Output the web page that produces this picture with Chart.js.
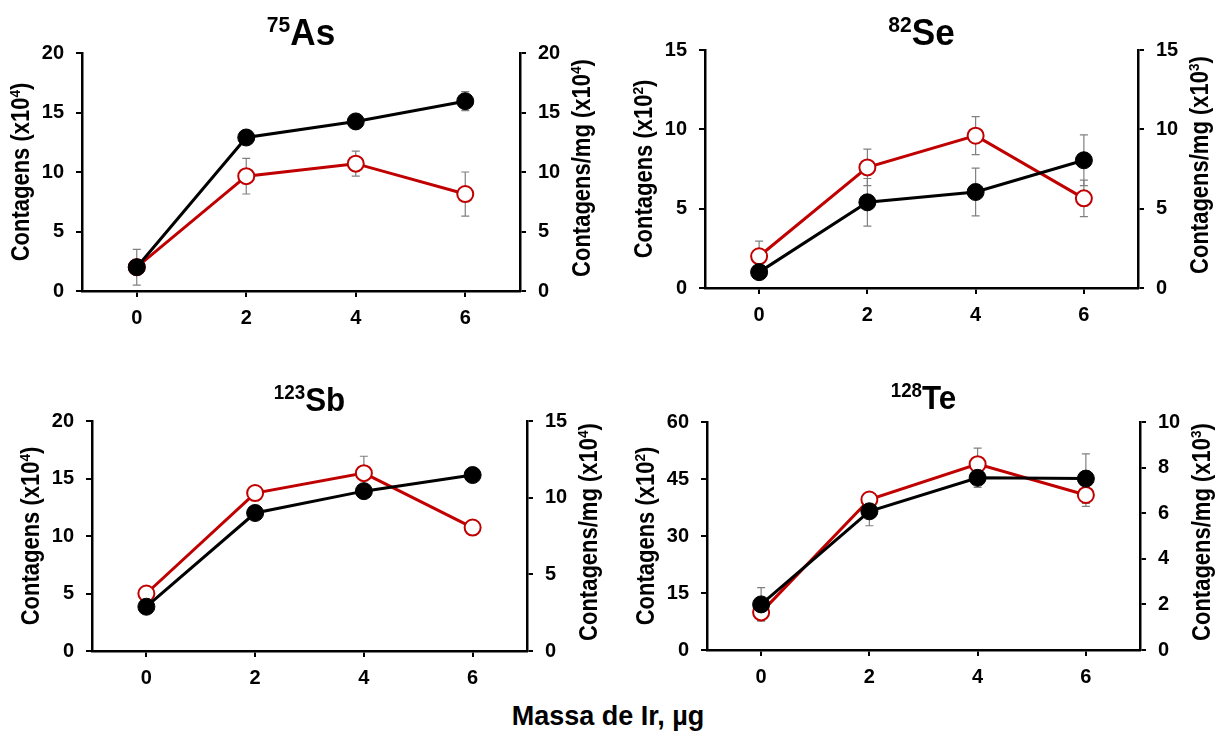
<!DOCTYPE html>
<html lang="pt">
  <head>
    <meta charset="utf-8" />
    <title>Massa de Ir</title>
    <script src="https://cdn.jsdelivr.net/npm/chart.js@4.4.0/dist/chart.umd.min.js"></script>
    <style>
      body { margin: 0; background: #fff; }
      #wrap { position: relative; width: 1216px; height: 731px; font-family: "Liberation Sans", Arial, sans-serif; }
      #wrap canvas { position: absolute; }
      #xlabel { position: absolute; left: 0; width: 1216px; top: 703px; text-align: center;
                font-weight: bold; font-size: 27px; line-height: 26px; color: #000; }
    </style>
  </head>

  <body>
    <div id="wrap">
      <canvas id="as" width="608" height="360" style="left:0;top:0"></canvas>
      <canvas id="se" width="608" height="360" style="left:608px;top:0"></canvas>
      <canvas id="sb" width="608" height="340" style="left:0;top:360px"></canvas>
      <canvas id="te" width="608" height="340" style="left:608px;top:360px"></canvas>
      <div id="xlabel">Massa de Ir, µg</div>
    </div>

    <script>
      // massa de Ir (µg)
      var massa = [0, 2, 4, 6];

      // 75As
      var asCont = [2.0, 12.9, 14.25, 15.95];
      var asContErr = [1.5, 0.3, 0.4, 0.8];
      var asMg = [2.0, 9.65, 10.7, 8.15];
      var asMgErr = [0.3, 1.5, 1.05, 1.85];

      // 82Se
      var seCont = [1.0, 5.4, 6.05, 8.05];
      var seContErr = [0.3, 1.5, 1.5, 1.6];
      var seMg = [2.0, 7.6, 9.6, 5.65];
      var seMgErr = [0.95, 1.15, 1.2, 1.15];

      // 123Sb
      var sbCont = [3.85, 12.0, 13.9, 15.3];
      var sbContErr = [0.3, 0.3, 0.3, 0.3];
      var sbMg = [3.75, 10.3, 11.6, 8.05];
      var sbMgErr = [0.3, 0.3, 1.1, 0.3];

      // 128Te
      var teCont = [12.0, 36.5, 45.3, 45.1];
      var teContErr = [4.4, 3.8, 2.5, 6.5];
      var teMg = [1.65, 6.6, 8.15, 6.8];
      var teMgErr = [0.35, 0.3, 0.7, 0.5];

      var FONT = "'Liberation Sans', Arial, sans-serif";
      var RED = "#c00000";

      var panels = [
        { id: "as", title: "^75As", tsize: 37, left: "Contagens (x10^4)", right: "Contagens/mg (x10^4)",
          cont: asCont, contErr: asContErr, mg: asMg, mgErr: asMgErr,
          yMax: 20, yStep: 5, y2Max: 20, y2Step: 5, area: { l: 82, t: 53, r: 520, b: 291 }, tY: 45 },
        { id: "se", title: "^82Se", tsize: 37, left: "Contagens (x10^2)", right: "Contagens/mg (x10^3)",
          cont: seCont, contErr: seContErr, mg: seMg, mgErr: seMgErr,
          yMax: 15, yStep: 5, y2Max: 15, y2Step: 5, area: { l: 97, t: 50, r: 530, b: 288 }, tY: 45 },
        { id: "sb", title: "^123Sb", tsize: 33, left: "Contagens (x10^4)", right: "Contagens/mg (x10^4)",
          cont: sbCont, contErr: sbContErr, mg: sbMg, mgErr: sbMgErr,
          yMax: 20, yStep: 5, y2Max: 15, y2Step: 5, area: { l: 92, t: 61, r: 527, b: 291 }, tY: 51 },
        { id: "te", title: "^128Te", tsize: 33, left: "Contagens (x10^2)", right: "Contagens/mg (x10^3)",
          cont: teCont, contErr: teContErr, mg: teMg, mgErr: teMgErr,
          yMax: 60, yStep: 15, y2Max: 10, y2Step: 2, area: { l: 99, t: 62, r: 532, b: 290 }, tY: 49 },
      ];

      // "^75As" -> [{t:"75",sup:true},{t:"As"}]
      function rich(s) {
        return s.split(/(\^\d+)/).filter(Boolean).map(function (t) {
          return t[0] === "^" ? { t: t.slice(1), sup: true } : { t: t, sup: false };
        });
      }

      // sx < 1 squeezes the text along its own direction (the source font is narrow)
      function drawRich(ctx, s, x, y, size, supRatio, sx) {
        var parts = rich(s);
        var w = 0;
        parts.forEach(function (p) {
          ctx.font = "bold " + (p.sup ? size * supRatio : size) + "px " + FONT;
          w += ctx.measureText(p.t).width;
        });
        ctx.save();
        ctx.scale(sx, 1);
        var cx = x / sx - w / 2;
        ctx.textAlign = "left";
        ctx.textBaseline = "alphabetic";
        parts.forEach(function (p) {
          ctx.font = "bold " + (p.sup ? size * supRatio : size) + "px " + FONT;
          ctx.fillText(p.t, cx, p.sup ? y - size * 0.36 : y);
          cx += ctx.measureText(p.t).width;
        });
        ctx.restore();
      }

      var errorBars = {
        id: "errorBars",
        beforeDatasetsDraw: function (chart) {
          var ctx = chart.ctx;
          var xs = chart.scales.x;
          ctx.save();
          ctx.strokeStyle = "#808080";
          ctx.lineWidth = 1.2;
          chart.data.datasets.forEach(function (ds) {
            var ys = chart.scales[ds.yAxisID];
            ds.data.forEach(function (p, j) {
              var e = ds.errors[j];
              var px = xs.getPixelForValue(p.x);
              var top = ys.getPixelForValue(p.y + e);
              var bot = ys.getPixelForValue(p.y - e);
              ctx.beginPath();
              ctx.moveTo(px, top); ctx.lineTo(px, bot);
              ctx.moveTo(px - 4, top); ctx.lineTo(px + 4, top);
              ctx.moveTo(px - 4, bot); ctx.lineTo(px + 4, bot);
              ctx.stroke();
            });
          });
          ctx.restore();
        },
      };

      function textPlugin(pn) {
        return {
          id: "panelText",
          afterDraw: function (chart) {
            var ctx = chart.ctx;
            var a = chart.chartArea;
            var cy = (a.top + a.bottom) / 2;
            ctx.save();
            ctx.fillStyle = "#000";
            drawRich(ctx, pn.title, (a.left + a.right) / 2, pn.tY, pn.tsize, 0.6, 0.95);

            ctx.save();
            ctx.translate(a.left - 61, cy);
            ctx.rotate(-Math.PI / 2);
            drawRich(ctx, pn.left, 0, 8, 25, 0.62, 0.88);
            ctx.restore();

            ctx.save();
            ctx.translate(a.right + 62, cy - 4);
            ctx.rotate(-Math.PI / 2);
            drawRich(ctx, pn.right, 0, 8, 25, 0.62, 0.88);
            ctx.restore();
            ctx.restore();
          },
        };
      }

      function points(ys) {
        return massa.map(function (m, i) { return { x: m, y: ys[i] }; });
      }

      var tickFont = { family: FONT, size: 20, weight: "bold" };

      function axisY(pos, max, step, fit) {
        return {
          position: pos,
          min: 0,
          max: max,
          ticks: { stepSize: step, color: "#000", font: tickFont, padding: 12 },
          grid: { drawOnChartArea: false, color: "#000", lineWidth: 2, tickLength: 6 },
          border: { color: "#000", width: 2.5 },
          afterFit: fit,
        };
      }

      panels.forEach(function (pn) {
        var canvas = document.getElementById(pn.id);
        var W = canvas.width, H = canvas.height, a = pn.area;
        new Chart(canvas.getContext("2d"), {
          type: "line",
          data: {
            datasets: [
              {
                data: points(pn.cont), errors: pn.contErr, yAxisID: "y",
                borderColor: "#000", borderWidth: 3,
                pointRadius: 8.5, pointBackgroundColor: "#000", pointBorderColor: "#000", pointBorderWidth: 1,
              },
              {
                data: points(pn.mg), errors: pn.mgErr, yAxisID: "y2",
                borderColor: RED, borderWidth: 3,
                pointRadius: 8, pointBackgroundColor: "#fff", pointBorderColor: RED, pointBorderWidth: 2,
              },
            ],
          },
          options: {
            responsive: false,
            animation: false,
            layout: { padding: { top: a.t, left: 0, right: 0, bottom: 0 } },
            plugins: { legend: { display: false }, tooltip: { enabled: false } },
            scales: {
              x: {
                type: "linear",
                min: -1,
                max: 7,
                afterBuildTicks: function (s) { s.ticks = massa.map(function (v) { return { value: v }; }); },
                afterFit: function (s) { s.height = H - a.b; },
                ticks: { color: "#000", font: tickFont, padding: 9 },
                grid: { drawOnChartArea: false, color: "#000", lineWidth: 2, tickLength: 6 },
                border: { color: "#000", width: 2.5 },
              },
              y: axisY("left", pn.yMax, pn.yStep, function (s) { s.width = a.l; }),
              y2: axisY("right", pn.y2Max, pn.y2Step, function (s) { s.width = W - a.r; }),
            },
          },
          plugins: [errorBars, textPlugin(pn)],
        });
      });
    </script>
  </body>
</html>
